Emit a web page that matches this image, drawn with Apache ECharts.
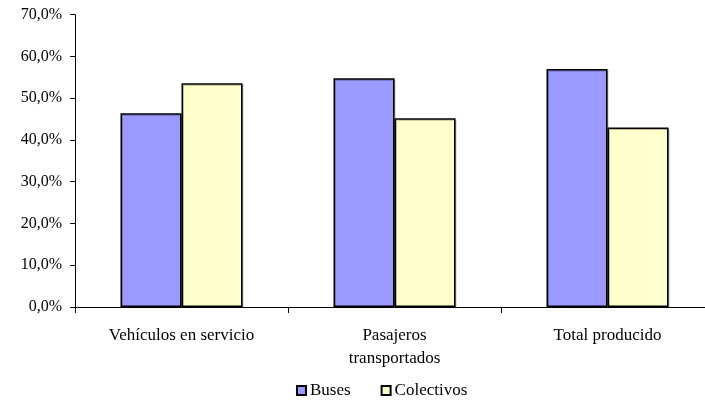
<!DOCTYPE html>
<html>
<head>
<meta charset="utf-8">
<script src="https://cdn.jsdelivr.net/npm/echarts@6/dist/echarts.min.js"></script>
<style>
  html, body { margin: 0; padding: 0; background: #fff; overflow: hidden; }
  /* el grafico original sigue a la derecha, se recorta en 705px */
  #chart { width: 714px; height: 404px; }
</style>
</head>
<body>
<div id="chart"></div>
<script>
// categorias y valores (%)
var categories = ['Vehículos en servicio', 'Pasajeros\ntransportados', 'Total producido'];
var busesValues = [46.4, 54.8, 57.0];
var colectivosValues = [53.6, 45.2, 43.0];
var seriesNames = ['Buses', 'Colectivos'];

var chart = echarts.init(document.getElementById('chart'));
var font = "'Liberation Serif', 'Times New Roman', serif";

var option = {
  animation: false,
  textStyle: { fontFamily: font },
  grid: {
    left: 75,
    right: 0,
    top: 14.7,
    bottom: 97,
    containLabel: false
  },
  legend: {
    data: seriesNames,
    bottom: 0,
    left: 291,
    itemWidth: 9,
    itemHeight: 9,
    itemGap: 30,
    icon: 'rect',
    textStyle: { color: '#000', fontSize: 17, fontFamily: font, padding: [0, 0, 0, -1] }
  },
  xAxis: {
    type: 'category',
    data: categories,
    axisLine: { lineStyle: { color: '#000', width: 1 } },
    axisTick: { show: true, length: 6, lineStyle: { color: '#000' } },
    axisLabel: {
      color: '#000',
      fontSize: 17,
      fontFamily: font,
      margin: 17,
      lineHeight: 23,
      interval: 0
    }
  },
  yAxis: {
    type: 'value',
    min: 0,
    max: 70,
    interval: 10,
    axisLine: { show: true, lineStyle: { color: '#000', width: 1 } },
    axisTick: { show: true, length: 5, lineStyle: { color: '#000' } },
    splitLine: { show: false },
    axisLabel: {
      color: '#000',
      fontSize: 16,
      fontFamily: font,
      margin: 13,
      formatter: function (v) {
        return v.toFixed(1).replace('.', ',') + '%';
      }
    }
  },
  series: [
    {
      name: seriesNames[0],
      type: 'bar',
      data: busesValues,
      barWidth: 61,
      barGap: '0%',
      itemStyle: {
        color: '#9999FF',
        borderColor: '#000',
        borderWidth: 1.5,
        shadowColor: 'rgba(0,0,0,0.25)',
        shadowOffsetX: 1,
        shadowOffsetY: 1
      }
    },
    {
      name: seriesNames[1],
      type: 'bar',
      data: colectivosValues,
      barWidth: 61,
      barGap: '0%',
      itemStyle: {
        color: '#FFFFCC',
        borderColor: '#000',
        borderWidth: 1.5,
        shadowColor: 'rgba(0,0,0,0.25)',
        shadowOffsetX: 1,
        shadowOffsetY: 1
      }
    }
  ]
};
chart.setOption(option);
</script>
</body>
</html>
